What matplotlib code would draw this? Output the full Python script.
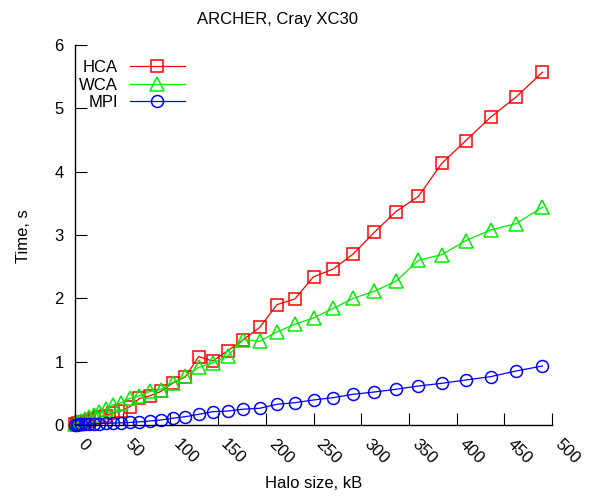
import matplotlib
matplotlib.use("Agg")
import matplotlib.pyplot as plt

plt.rcParams['font.family'] = ['Liberation Sans', 'DejaVu Sans']

halo_kb = [0.4, 1.6, 3.6, 6.4, 10, 14.4, 19.6, 25.6, 32.4, 40, 48.4, 57.6, 67.6,
           78.4, 90, 102.4, 115.6, 129.6, 144.4, 160, 176.4, 193.6, 211.6, 230.4,
           250, 270.4, 291.6, 313.6, 336.4, 360, 384.4, 409.6, 435.6, 462.4, 490]
hca = [0.01, 0.02, 0.03, 0.04, 0.05, 0.07, 0.09, 0.12, 0.15, 0.19, 0.22, 0.29,
       0.42, 0.46, 0.53, 0.66, 0.76, 1.08, 1.01, 1.17, 1.35, 1.54, 1.90, 1.99,
       2.34, 2.46, 2.70, 3.04, 3.37, 3.61, 4.13, 4.49, 4.86, 5.18, 5.57]
wca = [0.01, 0.02, 0.04, 0.06, 0.09, 0.12, 0.16, 0.20, 0.25, 0.32, 0.35, 0.42,
       0.46, 0.53, 0.56, 0.67, 0.77, 0.91, 0.98, 1.09, 1.35, 1.32, 1.47, 1.59,
       1.69, 1.84, 2.00, 2.11, 2.27, 2.60, 2.69, 2.91, 3.08, 3.18, 3.44]
mpi = [0.005, 0.006, 0.008, 0.010, 0.012, 0.015, 0.018, 0.022, 0.026, 0.030,
       0.034, 0.040, 0.050, 0.063, 0.079, 0.106, 0.131, 0.169, 0.21, 0.22, 0.25,
       0.264, 0.327, 0.352, 0.395, 0.431, 0.485, 0.521, 0.564, 0.616, 0.658,
       0.711, 0.763, 0.853, 0.932]

W, H = 589, 497
fig = plt.figure(figsize=(W / 100, H / 100), dpi=100)
ax = fig.add_axes([75 / W, 1 - 425 / H, 477 / W, 380 / H])

style = dict(lw=0.9, mew=1.1, mfc='none', clip_on=False)
ax.plot(halo_kb, hca, color='#ff0000', marker='s', ms=9.0, label='HCA', **style)
ax.plot(halo_kb, wca, color='#00ee00', marker='^', ms=9.5, label='WCA', **style)
ax.plot(halo_kb, mpi, color='#0000ff', marker='o', ms=8.6, label='MPI', **style)

ax.set_xlim(0, 500)
ax.set_ylim(0, 6)
ax.set_xticks(range(0, 501, 50))
ax.set_yticks(range(0, 7))
for s in ('top', 'right'):
    ax.spines[s].set_visible(False)
for s in ('left', 'bottom'):
    ax.spines[s].set_linewidth(1.0)
ax.tick_params(direction='in', length=8.6, width=0.8, pad=8.2, labelsize=12)
plt.setp(ax.get_xticklabels(), rotation=-45, ha='left', va='top')

leg = ax.legend(loc='upper left', bbox_to_anchor=(79 / W, 1 - 60 / H),
                bbox_transform=fig.transFigure, frameon=False, markerfirst=False,
                fontsize=12, handlelength=3.3, handletextpad=0.7,
                labelspacing=0.15, borderpad=0, borderaxespad=0)

fig.text(277.5 / W, 1 - 24.3 / H, 'ARCHER, Cray XC30', ha='center', va='baseline', fontsize=12)
fig.text(313.3 / W, 1 - 488 / H, 'Halo size, kB', ha='center', va='baseline', fontsize=12)
fig.text(28.3 / W, 1 - 236.5 / H, 'Time, s', ha='center', va='baseline',
         rotation=90, rotation_mode='anchor', fontsize=12)

fig.savefig('out.png', dpi=100)
